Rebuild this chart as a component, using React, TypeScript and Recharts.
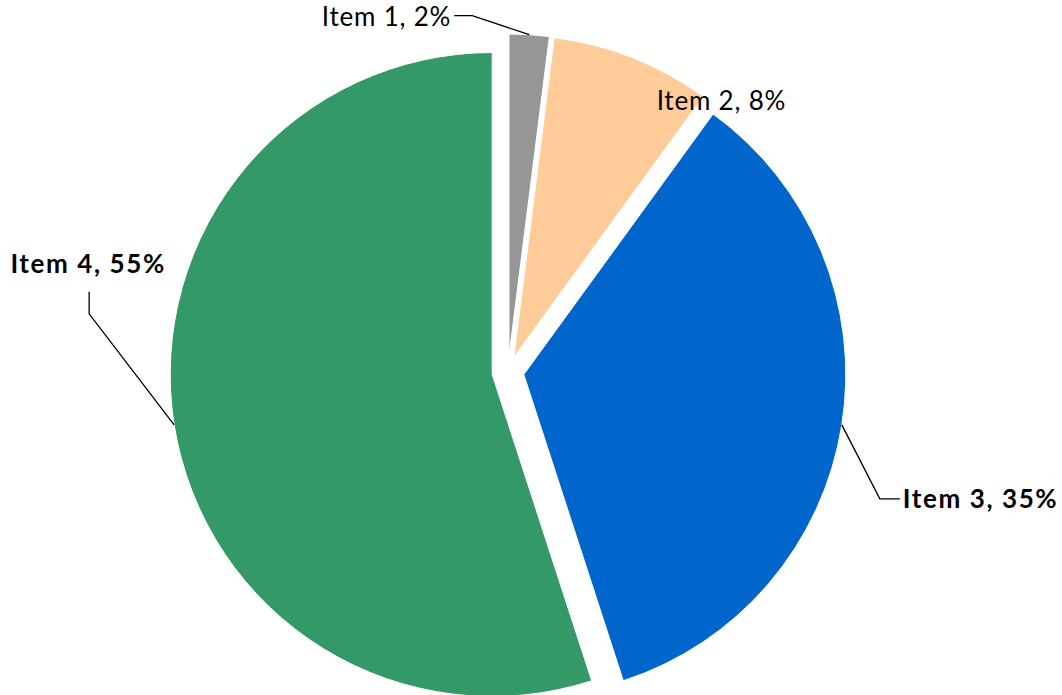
import React from 'react';
import { PieChart, Pie, Cell, Sector } from 'recharts';

const items = ['Item 1', 'Item 2', 'Item 3', 'Item 4'];
const shares = [2, 8, 35, 55];
const colors = ['#969696', '#FFCC99', '#0066CC', '#339966'];
const boldLabel = [false, false, true, true];

// label layout, relative to the point on the slice's arc at its mid angle
// line: elbow and end of the leader line, text: where the text goes
const labelLayout = [
  { line: [[-57, -19], [-75, -19]], text: [-78, -19], anchor: 'end' },
  { line: [], text: [89, 42], anchor: 'middle' },
  { line: [[38, 74], [58, 74]], text: [61, 73], anchor: 'start' },
  { line: [[-85, -111], [-85, -133]], text: [-86, -162], anchor: 'middle' },
];

const data = items.map((name, i) => ({ name, value: shares[i] }));

const EXPLODE = 16;
const RAD = Math.PI / 180;

const shift = (midAngle: number) => ({
  dx: EXPLODE * Math.cos(-midAngle * RAD),
  dy: EXPLODE * Math.sin(-midAngle * RAD),
});

const ExplodedSector = (props: any) => {
  const { dx, dy } = shift(props.midAngle);
  return <Sector {...props} cx={props.cx + dx} cy={props.cy + dy} />;
};

const renderLabel = (props: any) => {
  const { cx, cy, midAngle, outerRadius, index } = props;
  const { dx, dy } = shift(midAngle);
  const px = cx + dx + outerRadius * Math.cos(-midAngle * RAD);
  const py = cy + dy + outerRadius * Math.sin(-midAngle * RAD);
  const lay = labelLayout[index];
  const pts = [[px, py], ...lay.line.map(([a, b]) => [px + a, py + b])];
  const bold = boldLabel[index];
  return (
    <g key={`lbl-${index}`}>
      {lay.line.length > 0 && (
        <polyline
          points={pts.map(p => p.join(',')).join(' ')}
          fill="none"
          stroke="#000"
          strokeWidth={1.3}
        />
      )}
      <text
        x={px + lay.text[0]}
        y={py + lay.text[1]}
        textAnchor={lay.anchor as any}
        dominantBaseline="central"
        fill="#000"
        fontSize={26}
        letterSpacing={bold ? 1.6 : 0.8}
        fontWeight={bold ? 700 : 400}
        fontFamily="Lato, 'Open Sans', sans-serif"
      >
        {`${items[index]}, ${shares[index]}%`}
      </text>
    </g>
  );
};

export default function App() {
  return (
    <div style={{ position: 'absolute', left: 0, top: 0, width: 1062, height: 695, background: '#fff' }}>
      <PieChart width={1062} height={695} margin={{ top: 0, right: 0, bottom: 0, left: 0 }}>
        <Pie
          data={data}
          dataKey="value"
          nameKey="name"
          cx={508}
          cy={372}
          outerRadius={322}
          startAngle={90}
          endAngle={-270}
          stroke="#fff"
          strokeWidth={1}
          isAnimationActive={false}
          shape={ExplodedSector}
          activeShape={ExplodedSector}
          inactiveShape={ExplodedSector}
          label={renderLabel}
          labelLine={false}
        >
          {data.map((d, i) => (
            <Cell key={d.name} fill={colors[i]} />
          ))}
        </Pie>
      </PieChart>
    </div>
  );
}
